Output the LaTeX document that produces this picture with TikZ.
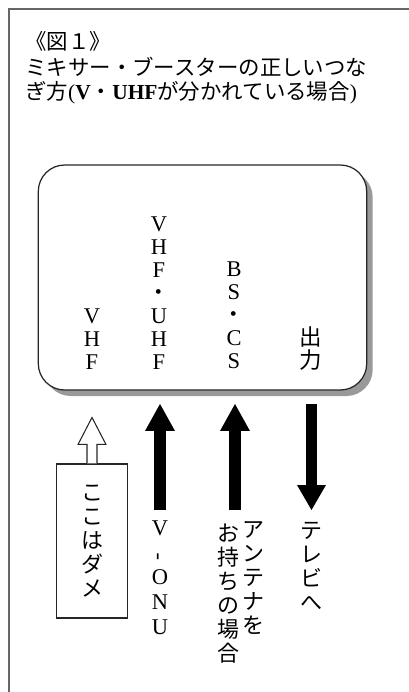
\documentclass[tikz,border=0pt]{standalone}
\usepackage{fontspec}
\usepackage{graphicx}
\setmainfont{Liberation Serif}
\newfontfamily\jp{Noto Sans CJK JP}
\newcommand{\titlefont}{\fontsize{12.2}{14}\selectfont}
\newcommand{\boxfont}{\fontsize{12.8}{13.1}\selectfont}
\newcommand{\tagfont}{\fontsize{12.5}{13.66}\selectfont}
\newcommand{\onufont}{\fontsize{12.8}{14.2}\selectfont}

\begin{document}
\begin{tikzpicture}[scale=0.2]
\tikzstyle{every node}+=[inner sep=0pt]
\tikzstyle{boxtext}=[align=center, anchor=south, font=\boxfont]
\tikzstyle{tagtext}=[align=center, anchor=north, font=\jp\tagfont]
\useasboundingbox (0,0) rectangle (40.9,-69.2);
\draw [black!60, line width=0.9pt] (0.9,-69.2) -- (0.9,-0.9) -- (40.9,-0.9);
\draw (2.5,-4.1) node (title1) [anchor=west, font=\jp\titlefont] {《図１》};
\draw (2.5,-6.7) node (title2) [anchor=west, font=\jp\titlefont] {ミキサー・ブースターの正しいつな};
\draw (2.5,-9.3) node (title3) [anchor=west, font=\jp\titlefont] {ぎ方{\rmfamily (}\textbf{\rmfamily V}・\textbf{\rmfamily UHF}が分かれている場合{\rmfamily )}};
% mixer / booster
\fill [black!40, rounded corners=15pt] (4.43,-17.1) rectangle (37.27,-39.6);
\draw [black!85, fill=white, line width=0.7pt, rounded corners=15pt] (3.83,-16.5) rectangle (36.67,-39.0);
\draw (9.2,-36.95) node (vhf) [boxtext] {V\\H\\F};
\draw (15.9,-36.95) node (vuhf) [boxtext] {V\\H\\F\\{\jp ・}\\U\\H\\F};
\draw (23.4,-36.95) node (bscs) [boxtext] {B\\S\\{\jp ・}\\C\\S};
\draw (31.1,-37.1) node (out) [boxtext, font=\jp\boxfont] {出\\力};
% not here
\draw (9.2,-54.1) node (dame) [draw=black!85, line width=0.6pt, minimum width=1.41cm, minimum height=3.08cm, align=center, font=\jp\tagfont] {こ\\こ\\は\\ダ\\メ};
\draw [black!85, fill=white, line width=0.6pt] (dame.north) ++(-0.5,0) -- ++(0,1.9) -- ++(-0.9,0) -- ++(1.4,2.7) -- ++(1.4,-2.7) -- ++(-0.9,0) -- ++(0,-1.9);
% inputs and output
\coordinate (onu) at (16,-51);
\draw [black, line width=6.3pt] (onu) -- ++(0,8.2);
\fill [black] (onu) ++(-1.5,7.9) -- ++(3,0) -- ++(-1.5,2.7) -- cycle;
\coordinate (antenna) at (23.5,-51);
\draw [black, line width=6.3pt] (antenna) -- ++(0,8.2);
\fill [black] (antenna) ++(-1.5,7.9) -- ++(3,0) -- ++(-1.5,2.7) -- cycle;
\coordinate (tv) at (31.15,-40.4);
\draw [black, line width=6.3pt] (tv) -- ++(0,-8.3);
\fill [black] (tv) ++(-1.45,-8.1) -- ++(2.9,0) -- ++(-1.45,-2.5) -- cycle;
\draw (16.0,-52.0) node (onu-label) [anchor=north, align=center, font=\onufont] {V\\\rotatebox{90}{-}\\O\\N\\U};
\draw (25.3,-52.15) node (antenna1) [tagtext] {ア\\ン\\テ\\ナ\\を};
\draw (22.8,-52.4) node (antenna2) [tagtext] {お\\持\\ち\\の\\場\\合};
\draw (31.1,-52.15) node (tv-label) [tagtext] {テ\\レ\\ビ\\へ};
\end{tikzpicture}
\end{document}
